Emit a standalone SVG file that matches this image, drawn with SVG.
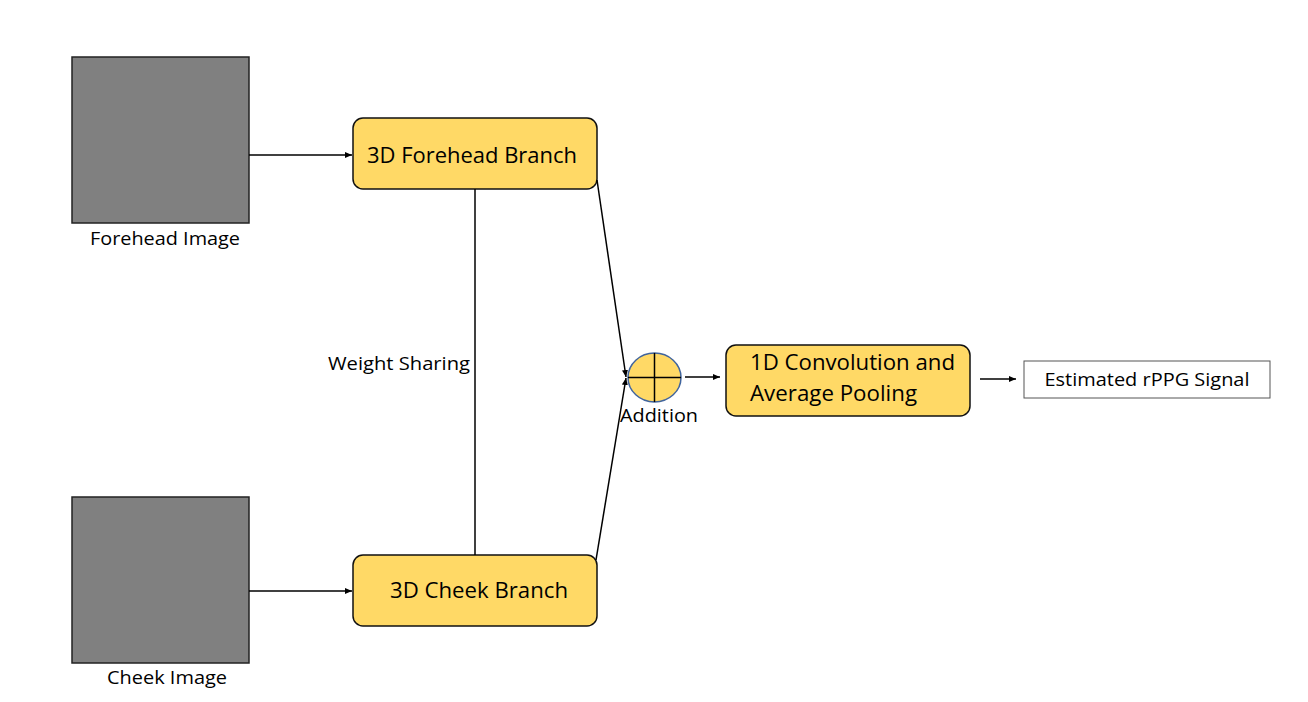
<svg xmlns="http://www.w3.org/2000/svg" width="1308" height="702" viewBox="0 0 1308 702">
<style>
.img{fill:#808080;stroke:#222;stroke-width:1.5}
.box{fill:#FFD966;stroke:#111;stroke-width:1.5}
.ln{stroke:#000;stroke-width:1.5;fill:none}
.t{font-family:"Open Sans","Noto Sans",sans-serif;fill:#000}
.big{font-size:21px}
.sm{font-size:19px}
</style>
<defs>
<marker id="ah" markerWidth="8" markerHeight="8" refX="7" refY="4" orient="auto" markerUnits="userSpaceOnUse">
<path d="M0,1 L7,4 L0,7 Z" fill="#000"/>
</marker>
</defs>
<rect width="1308" height="702" fill="#fff"/>
<g id="forehead-image">
<rect class="img" x="72" y="57" width="177" height="166"/>
<text class="t sm" x="165" y="245" text-anchor="middle" textLength="150" lengthAdjust="spacingAndGlyphs">Forehead Image</text>
</g>
<g id="cheek-image">
<rect class="img" x="72" y="497" width="177" height="166"/>
<text class="t sm" x="167" y="684" text-anchor="middle" textLength="120" lengthAdjust="spacingAndGlyphs">Cheek Image</text>
</g>
<g id="forehead-branch">
<rect class="box" x="353" y="118" width="244" height="71" rx="10"/>
<text class="t big" x="472" y="163" text-anchor="middle" textLength="210" lengthAdjust="spacingAndGlyphs">3D Forehead Branch</text>
</g>
<g id="cheek-branch">
<rect class="box" x="353" y="555" width="244" height="71" rx="10"/>
<text class="t big" x="479" y="598" text-anchor="middle" textLength="178" lengthAdjust="spacingAndGlyphs">3D Cheek Branch</text>
</g>
<g id="addition">
<ellipse cx="654.5" cy="377.5" rx="26.5" ry="24.5" fill="#FFD966" stroke="#41659E" stroke-width="1.5"/>
<line class="ln" x1="628" y1="377.5" x2="681" y2="377.5"/>
<line class="ln" x1="654.5" y1="353" x2="654.5" y2="402"/>
<text class="t sm" x="659" y="422" text-anchor="middle" textLength="78" lengthAdjust="spacingAndGlyphs">Addition</text>
</g>
<g id="conv-pool">
<rect class="box" x="726" y="345" width="244" height="71" rx="10"/>
<text class="t big" x="750" y="370" textLength="205" lengthAdjust="spacingAndGlyphs">1D Convolution and</text>
<text class="t big" x="750" y="401" textLength="167" lengthAdjust="spacingAndGlyphs">Average Pooling</text>
</g>
<g id="output">
<rect x="1024" y="361" width="246" height="37" fill="#fff" stroke="#555" stroke-width="1"/>
<text class="t sm" x="1147" y="386" text-anchor="middle" textLength="205" lengthAdjust="spacingAndGlyphs">Estimated rPPG Signal</text>
</g>
<g id="weight-sharing-label">
<text class="t sm" x="399" y="370" text-anchor="middle" textLength="142" lengthAdjust="spacingAndGlyphs">Weight Sharing</text>
</g>
<g id="connectors">
<line class="ln" x1="249" y1="155" x2="352" y2="155" marker-end="url(#ah)"/>
<line class="ln" x1="249" y1="591" x2="352" y2="591" marker-end="url(#ah)"/>
<line class="ln" x1="475" y1="189" x2="475" y2="555"/>
<line class="ln" x1="597" y1="180" x2="626" y2="377" marker-end="url(#ah)"/>
<line class="ln" x1="596" y1="560" x2="626" y2="378" marker-end="url(#ah)"/>
<line class="ln" x1="685" y1="377" x2="720" y2="377" marker-end="url(#ah)"/>
<line class="ln" x1="980" y1="379" x2="1016" y2="379" marker-end="url(#ah)"/>
</g>
</svg>
